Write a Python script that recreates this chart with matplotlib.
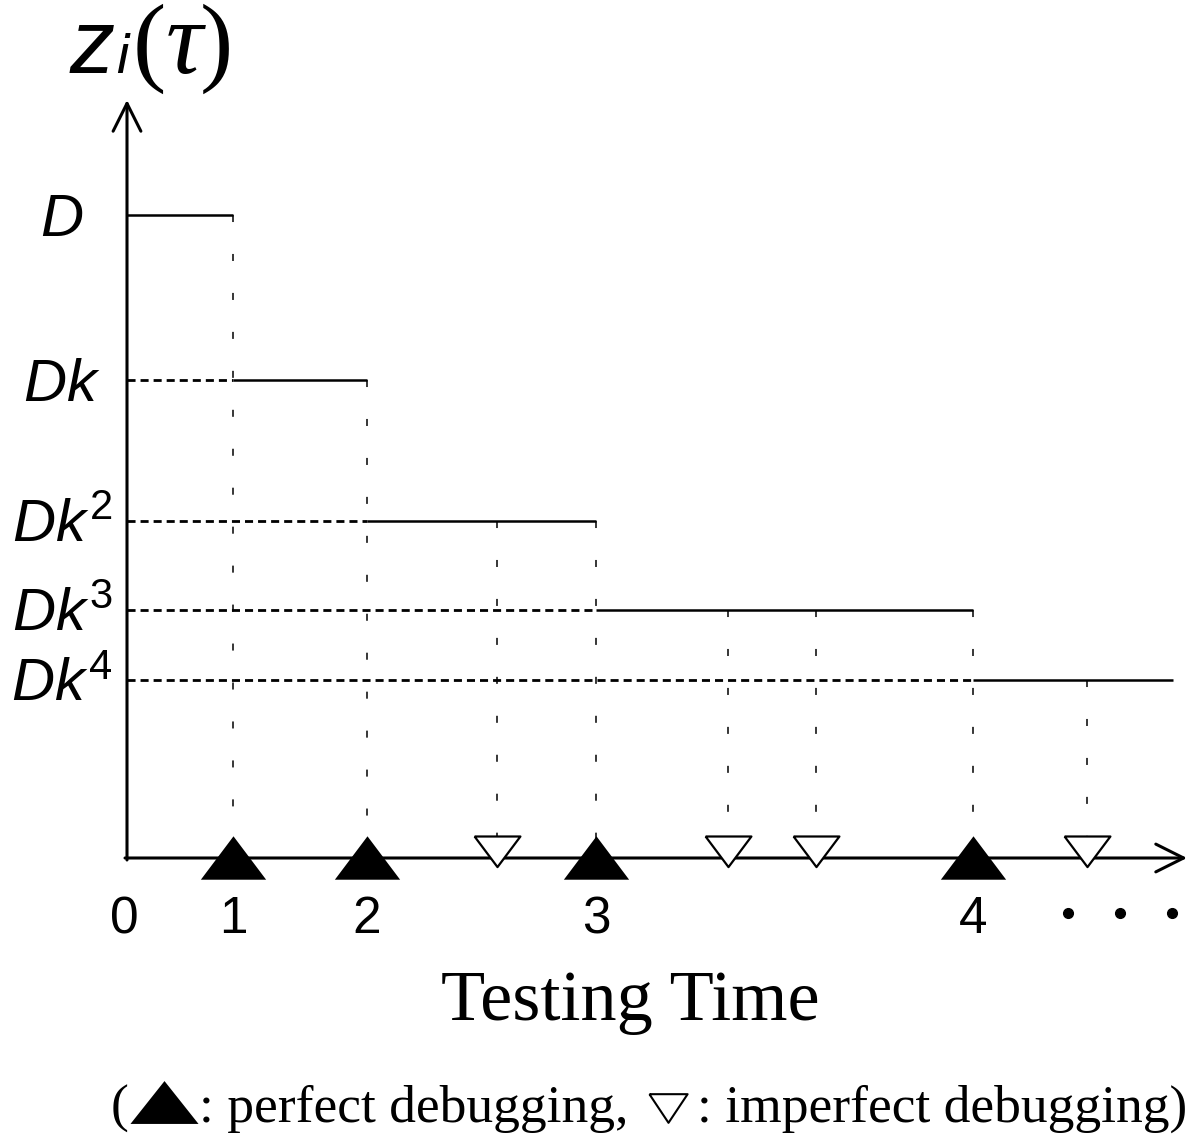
import matplotlib
matplotlib.use("Agg")
import matplotlib.pyplot as plt
from matplotlib.patches import FancyArrowPatch

plt.rcParams['mathtext.fontset'] = 'custom'
plt.rcParams['mathtext.it'] = 'Liberation Sans:italic'
plt.rcParams['mathtext.rm'] = 'Liberation Sans'

# fault-content levels after each perfect debugging
level_labels = [r'$D$', r'$Dk$', r'$Dk^2$', r'$Dk^3$', r'$Dk^4$']
levels = [6.43, 4.78, 3.37, 2.48, 1.78]

# debugging instants on the testing-time axis
perfect_t = [1.06, 2.40, 4.69, 8.46]
perfect_labels = ['1', '2', '3', '4']
imperfect_t = [3.70, 6.01, 6.89, 9.60]
t_end = 10.46
x_max, y_max = 10.60, 7.58

fig = plt.figure(figsize=(11.89, 11.45), dpi=100)
ax = fig.add_axes([0, 0, 1, 1])
ax.set_xlim(-1.27, 10.62)
ax.set_ylim(-2.87, 8.58)
ax.axis('off')


def px(x, y):
    # pixel position -> data position on this canvas
    return (x - 127) / 100, (858 - y) / 100


# axes with open arrow heads
for a, b in [((0, -0.02), (0, y_max)), ((-0.02, 0), (x_max, 0))]:
    ax.add_patch(FancyArrowPatch(a, b, arrowstyle='->,head_length=20,head_width=10',
                                 mutation_scale=1, lw=2.2, color='black',
                                 shrinkA=0, shrinkB=0, zorder=3))

# step function
starts = [0] + perfect_t
ends = perfect_t + [t_end]
for s, e, lv in zip(starts, ends, levels):
    ax.plot([s, e], [lv, lv], color='black', lw=1.8, solid_capstyle='butt')

# dashed guides from the y axis to each step
for s, lv in zip(starts[1:], levels[1:]):
    ax.plot([0, s], [lv, lv], color='black', lw=2.0, ls=(0, (2.9, 1.8)))


def level_at(t):
    for s, e, lv in zip(starts, ends, levels):
        if s < t <= e:
            return lv
    return levels[-1]


# sparse vertical guides down from each debugging instant
for t in perfect_t + imperfect_t:
    ax.plot([t, t], [level_at(t), 0], color='black', lw=1.1, ls=(0, (4.6, 20.9)))

# markers on the time axis
up_tri = [(-1, -0.65), (1, -0.65), (0, 0.68), (-1, -0.65)]
down_tri = [(-1, 0.96), (1, 0.96), (0, -0.375), (-1, 0.96)]
ax.plot(perfect_t, [0] * len(perfect_t), ls='none', marker=up_tri, ms=47,
        mfc='black', mec='black', mew=0, zorder=5)
ax.plot(imperfect_t, [0] * len(imperfect_t), ls='none', marker=down_tri, ms=33,
        mfc='white', mec='black', mew=1.6, zorder=5)

# level labels
lx, _ = px(62, 0)
for lab, lv in zip(level_labels, levels):
    ax.text(lx, lv - 0.215, lab, fontsize=43, ha='center', va='baseline')

# time labels
_, by = px(0, 933)
ax.text(px(124, 0)[0], by, '0', fontsize=37, family='Liberation Sans',
        ha='center', va='baseline')
for t, lab in zip(perfect_t, perfect_labels):
    ax.text(t, by, lab, fontsize=37, family='Liberation Sans',
            ha='center', va='baseline')
dots_x = [px(x, 0)[0] for x in (1068, 1120, 1172)]
ax.plot(dots_x, [px(0, 913)[1]] * 3, ls='none', marker='o', ms=7, color='black')

# y-axis title z_i(tau), pieces laid side by side
renderer = fig.canvas.get_renderer()
inv = ax.transData.inverted()


def after(prev, s, y, gap=0, **kw):
    bb = prev.get_window_extent(renderer)
    x = inv.transform((bb.x1 + gap, 0))[0]
    return ax.text(x, y, s, ha='left', va='baseline', **kw)


ty = px(0, 73)[1]
t_z = ax.text(px(70, 0)[0], ty, 'z', fontsize=65, family='Liberation Sans',
              style='italic', ha='left', va='baseline')
t_i = after(t_z, 'i', ty, gap=1, fontsize=40, family='Liberation Sans', style='italic')
t_l = after(t_i, '(', ty, gap=4, fontsize=72, family='Liberation Serif')
t_tau = after(t_l, 'τ', ty, gap=0, fontsize=74, family='Liberation Serif', style='italic')
after(t_tau, ')', ty, gap=-3, fontsize=72, family='Liberation Serif')

# x-axis title
ax.text(*px(630, 1020), 'Testing Time', fontsize=52, family='Liberation Serif',
        ha='center', va='baseline')

# key line under the chart
key_size = 38.5
ax.text(*px(111, 1122), '(', fontsize=key_size, family='Liberation Serif',
        ha='left', va='baseline')
key_up = [(-1, -0.63), (1, -0.63), (0, 0.63), (-1, -0.63)]
key_down = [(-1, 0.75), (1, 0.75), (0, -0.75), (-1, 0.75)]
ax.plot(*px(164, 1101.5), marker=key_up, ms=49, mfc='black', mew=0)
ax.text(*px(199, 1122), ': perfect debugging,', fontsize=key_size,
        family='Liberation Serif', ha='left', va='baseline')
ax.plot(*px(668, 1108), marker=key_down, ms=27.5, mfc='white', mec='black', mew=1.5)
ax.text(*px(697, 1122), ': imperfect debugging)', fontsize=key_size,
        family='Liberation Serif', ha='left', va='baseline')

fig.savefig('out.png', dpi=100)
